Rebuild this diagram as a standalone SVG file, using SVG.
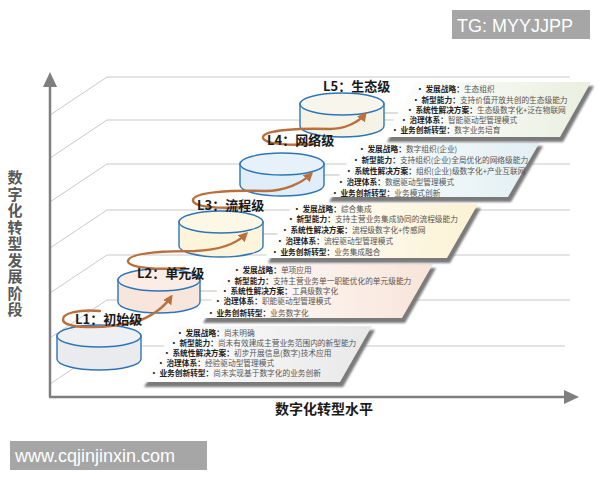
<svg xmlns="http://www.w3.org/2000/svg" width="600" height="480" viewBox="0 0 600 480">
<defs>
<style>
.grid{stroke:#c9c9c9;stroke-width:1;fill:none}
.axis{stroke:#7f7f7f;stroke-width:2.5;fill:none}
.disk{stroke:#2e75b6;stroke-width:1.4}
.lv{font-family:"Noto Sans CJK SC",sans-serif;font-weight:700;font-size:13px;fill:#1a1a1a}
.pt{font-family:"Noto Sans CJK SC",sans-serif;font-size:7.7px;fill:#555}
.pt .b{font-weight:700;fill:#222}
.sp{stroke:#b8713d;stroke-width:2.4;fill:none;stroke-linecap:round}
.lead{stroke:#bdbdbd;stroke-width:1}
.shadow{fill:#7a7a7a;filter:url(#blur)}
.wm{font-family:"Liberation Sans",Arial,sans-serif;fill:#fff}
</style>
<filter id="blur" x="-10%" y="-10%" width="120%" height="130%"><feGaussianBlur stdDeviation="1.2"/></filter>
<marker id="ah" viewBox="0 0 10 10" refX="7" refY="5" markerWidth="4" markerHeight="4" orient="auto" markerUnits="strokeWidth">
<path d="M0,0 L10,5 L0,10 Z" fill="#b8713d"/>
</marker>
<linearGradient id="g1" x1="0" y1="0" x2="1" y2="0"><stop offset="0" stop-color="#fff"/><stop offset="1" stop-color="#e8e8e8"/></linearGradient>
<linearGradient id="g2" x1="0" y1="0" x2="1" y2="0"><stop offset="0" stop-color="#fff"/><stop offset="1" stop-color="#f8e4d9"/></linearGradient>
<linearGradient id="g3" x1="0" y1="0" x2="1" y2="0"><stop offset="0" stop-color="#fff"/><stop offset="1" stop-color="#fbf2d3"/></linearGradient>
<linearGradient id="g4" x1="0" y1="0" x2="1" y2="0"><stop offset="0" stop-color="#fff"/><stop offset="1" stop-color="#e2eff3"/></linearGradient>
<linearGradient id="g5" x1="0" y1="0" x2="1" y2="0"><stop offset="0" stop-color="#fff"/><stop offset="1" stop-color="#e9efe0"/></linearGradient>
</defs>
<rect width="600" height="480" fill="#fff"/>

<g id="grid">
<path class="grid" d="M50,115 L107,77 L570,77"/>
<path class="grid" d="M50,158 L107,120 L570,120"/>
<path class="grid" d="M50,202 L107,164 L570,164"/>
<path class="grid" d="M50,248 L107,210 L570,210"/>
<path class="grid" d="M50,293 L107,255 L570,255"/>
<path class="grid" d="M50,338 L107,300 L570,300"/>
<path class="grid" d="M50,384 L107,346 L565,346"/>
</g>

<g id="axes">
<path class="axis" d="M50,397 L50,84"/>
<path d="M43,87 L50,72 L57,87 Z" fill="#7f7f7f"/>
<path class="axis" d="M49,397 L566,397"/>
<path d="M564,390 L579,397 L564,404 Z" fill="#7f7f7f"/>
<text x="15" y="170" writing-mode="tb" style="writing-mode:vertical-rl" letter-spacing="1.5" font-family="Noto Sans CJK SC,sans-serif" font-weight="700" font-size="15" fill="#595959">数字化转型发展阶段</text>
<text x="324" y="414" font-family="Noto Sans CJK SC,sans-serif" font-weight="700" font-size="14" fill="#1a1a1a" text-anchor="middle">数字化转型水平</text>
</g>

<g id="leaders">
<line class="lead" x1="384" y1="113" x2="400" y2="113"/>
<line class="lead" x1="324" y1="175" x2="342" y2="175"/>
<line class="lead" x1="263" y1="234" x2="279" y2="234"/>
<line class="lead" x1="200" y1="291" x2="217" y2="291"/>
</g>

<g id="panel1">
<polygon class="shadow" points="180,330 375,330 343,387 144,387"/>
<polygon points="177,326 372,326 340,382 141,382" fill="url(#g1)"/>
<text class="pt" x="176" y="335.6"><tspan class="b">• 发展战略：</tspan>尚未明确</text>
<text class="pt" x="170" y="345.6"><tspan class="b">• 新型能力：</tspan>尚未有效建成主营业务范围内的新型能力</text>
<text class="pt" x="163" y="355.6"><tspan class="b">• 系统性解决方案：</tspan>初步开展信息(数字)技术应用</text>
<text class="pt" x="157" y="365.6"><tspan class="b">• 治理体系：</tspan>经验驱动型管理模式</text>
<text class="pt" x="150" y="375.6"><tspan class="b">• 业务创新转型：</tspan>尚未实现基于数字化的业务创新</text>
</g>

<g id="panel2">
<polygon class="shadow" points="237,268 436,268 405,323 203,323"/>
<polygon points="234,264 433,264 402,318 200,318" fill="url(#g2)"/>
<text class="pt" x="233" y="272.6"><tspan class="b">• 发展战略：</tspan>单项应用</text>
<text class="pt" x="225" y="283.6"><tspan class="b">• 新型能力：</tspan>支持主营业务单一职能优化的单元级能力</text>
<text class="pt" x="221" y="293.6"><tspan class="b">• 系统性解决方案：</tspan>工具级数字化</text>
<text class="pt" x="214" y="303.6"><tspan class="b">• 治理体系：</tspan>职能驱动型管理模式</text>
<text class="pt" x="207" y="315.6"><tspan class="b">• 业务创新转型：</tspan>业务数字化</text>
</g>

<g id="panel3">
<polygon class="shadow" points="296,208 481,208 450,263 268,263"/>
<polygon points="293,204 478,204 447,258 265,258" fill="url(#g3)"/>
<text class="pt" x="293" y="211.6"><tspan class="b">• 发展战略：</tspan>综合集成</text>
<text class="pt" x="287" y="221.6"><tspan class="b">• 新型能力：</tspan>支持主营业务集成协同的流程级能力</text>
<text class="pt" x="281" y="232.6"><tspan class="b">• 系统性解决方案：</tspan>流程级数字化+传感网</text>
<text class="pt" x="276" y="243.6"><tspan class="b">• 治理体系：</tspan>流程驱动型管理模式</text>
<text class="pt" x="271" y="254.6"><tspan class="b">• 业务创新转型：</tspan>业务集成融合</text>
</g>

<g id="panel4">
<polygon class="shadow" points="363,146 543,146 511,202 329,202"/>
<polygon points="360,142 540,142 508,197 326,197" fill="url(#g4)"/>
<text class="pt" x="358" y="151.6"><tspan class="b">• 发展战略：</tspan>数字组织(企业)</text>
<text class="pt" x="352" y="162.6"><tspan class="b">• 新型能力：</tspan>支持组织(企业)全局优化的网络级能力</text>
<text class="pt" x="345" y="173.6"><tspan class="b">• 系统性解决方案：</tspan>组织(企业)级数字化+产业互联网</text>
<text class="pt" x="337" y="184.6"><tspan class="b">• 治理体系：</tspan>数据驱动型管理模式</text>
<text class="pt" x="331" y="195.6"><tspan class="b">• 业务创新转型：</tspan>业务模式创新</text>
</g>

<g id="panel5">
<polygon class="shadow" points="419,86 594,86 563,142 387,142"/>
<polygon points="416,82 591,82 560,137 384,137" fill="url(#g5)"/>
<text class="pt" x="416" y="91.6"><tspan class="b">• 发展战略：</tspan>生态组织</text>
<text class="pt" x="412" y="102.6"><tspan class="b">• 新型能力：</tspan>支持价值开放共创的生态级能力</text>
<text class="pt" x="406" y="112.6"><tspan class="b">• 系统性解决方案：</tspan>生态级数字化+泛在物联网</text>
<text class="pt" x="400" y="122.6"><tspan class="b">• 治理体系：</tspan>智能驱动型管理模式</text>
<text class="pt" x="391" y="132.6"><tspan class="b">• 业务创新转型：</tspan>数字业务培育</text>
</g>

<g id="L1">
<path class="disk" d="M57,336 L57,359 A42,11 0 0 0 141,359 L141,336 Z" fill="#e9ebef"/>
<ellipse class="disk" cx="99" cy="336" rx="42" ry="11" fill="#eef0f3"/>
</g>
<g id="L2">
<path class="disk" d="M118,280 L118,302 A41,11 0 0 0 200,302 L200,280 Z" fill="#f8e6dd"/>
<ellipse class="disk" cx="159" cy="280" rx="41" ry="11" fill="#fbece5"/>
</g>
<g id="L3">
<path class="disk" d="M179,222 L179,246 A42,11 0 0 0 263,246 L263,222 Z" fill="#fcf5dc"/>
<ellipse class="disk" cx="221" cy="222" rx="42" ry="11" fill="#fdf8e6"/>
</g>
<g id="L4">
<path class="disk" d="M240,164 L240,185 A42,11 0 0 0 324,185 L324,164 Z" fill="#e0eef9"/>
<ellipse class="disk" cx="282" cy="164" rx="42" ry="11" fill="#e6f1fa"/>
</g>
<g id="L5">
<path class="disk" d="M300,104 L300,126 A42,11 0 0 0 384,126 L384,104 Z" fill="#f5f3e6"/>
<ellipse class="disk" cx="342" cy="104" rx="42" ry="11" fill="#f8f6ec"/>
</g>

<g id="connectors">
<path class="sp" marker-end="url(#ah)" d="M100,311 C80,309 62,313 63,320 C64,328 100,330 135,322 C152,317 165,306 171,297"/>
<path class="sp" marker-end="url(#ah)" d="M185,268 C160,270 127,268 128,261 C129,253 160,251 195,251 C220,250 237,243 246,234"/>
<path class="sp" marker-end="url(#ah)" d="M245,207 C220,209 192,207 193,200 C194,192 230,190 265,191 C285,191 302,183 311,174"/>
<path class="sp" marker-end="url(#ah)" d="M315,144 C290,146 262,144 263,137 C264,130 300,128 330,129 C345,129 359,122 365,114"/>
</g>

<g id="labels">
<text class="lv" x="75" y="324">L1：初始级</text>
<text class="lv" x="137" y="278">L2：单元级</text>
<text class="lv" x="197" y="210">L3：流程级</text>
<text class="lv" x="267" y="145">L4：网络级</text>
<text class="lv" x="323" y="91">L5：生态级</text>
</g>

<g id="watermarks">
<rect x="452" y="10" width="138" height="29" fill="#a6a6a6"/>
<text class="wm" x="457" y="32" font-size="18">TG: MYYJJPP</text>
<rect x="10" y="441" width="197" height="29" fill="#a6a6a6"/>
<text class="wm" x="15" y="462" font-size="18">www.cqjinjinxin.com</text>
</g>
</svg>
